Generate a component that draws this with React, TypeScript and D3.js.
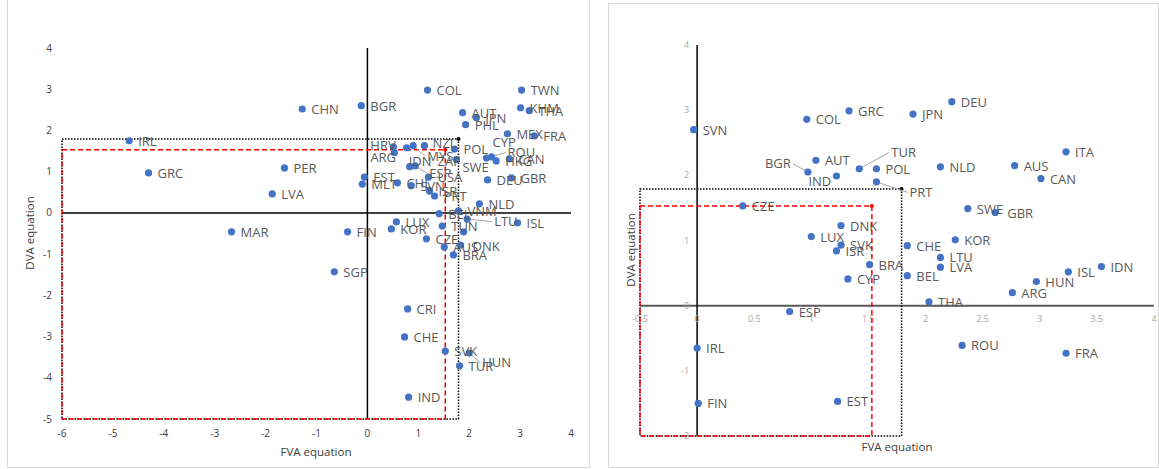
import React from 'react';
import * as d3 from 'd3';

// ---------- data ----------
const leftCodes = ['IRL','GRC','MAR','CHN','BGR','PER','LVA','COL','TWN','KHM','THA','AUT','JPN','PHL','MEX','FRA','CYP','ROU','HKG','CAN','POL','SWE','DEU','GBR','NZL','HRV','ARG','MYS','ZAF','IDN','ESP','USA','EST','MLT','CHL','SVN','ISR','PRT','NLD','VNM','BEL','LTU','ISL','LUX','KOR','FIN','TUN','ITA','CZE','AUS','DNK','BRA','SGP','CRI','CHE','SVK','HUN','TUR','IND'];
const leftFVA = [-4.68,-4.30,-2.67,-1.28,-0.12,-1.63,-1.87,1.18,3.03,3.01,3.18,1.87,2.14,1.93,2.75,3.28,2.44,2.34,2.53,2.79,1.71,1.75,2.36,2.83,1.12,0.51,0.53,0.90,0.77,0.83,0.94,1.20,-0.06,-0.10,0.59,0.86,1.22,1.32,2.20,1.79,1.41,1.96,2.95,0.57,0.47,-0.39,1.47,1.89,1.16,1.51,1.83,1.69,-0.65,0.79,0.73,1.53,2.00,1.81,0.81];
const leftDVA = [1.75,0.97,-0.46,2.52,2.60,1.09,0.46,2.98,2.98,2.55,2.48,2.43,2.31,2.14,1.92,1.87,1.36,1.33,1.26,1.31,1.55,1.29,0.80,0.85,1.63,1.60,1.46,1.63,1.58,1.12,1.14,0.87,0.87,0.70,0.73,0.66,0.53,0.41,0.22,0.05,-0.02,-0.15,-0.24,-0.22,-0.39,-0.46,-0.32,-0.46,-0.63,-0.83,-0.78,-1.02,-1.43,-2.33,-3.01,-3.35,-3.40,-3.71,-4.47];

const rightCodes = ['SVN','COL','GRC','JPN','DEU','BGR','AUT','IND','TUR','POL','PRT','NLD','AUS','ITA','CAN','CZE','SWE','GBR','DNK','LUX','SVK','ISR','CHE','KOR','LTU','LVA','BRA','BEL','CYP','IDN','ISL','HUN','ARG','THA','ESP','ROU','FRA','IRL','FIN','EST'];
const rightFVA = [-0.03,0.96,1.33,1.89,2.23,0.97,1.04,1.22,1.42,1.57,1.57,2.13,2.78,3.23,3.01,0.40,2.37,2.61,1.26,1.00,1.26,1.22,1.84,2.26,2.13,2.13,1.51,1.84,1.32,3.54,3.25,2.97,2.76,2.03,0.81,2.32,3.23,0.00,0.01,1.23];
const rightDVA = [2.70,2.86,2.99,2.94,3.13,2.05,2.23,1.99,2.10,2.10,1.90,2.13,2.15,2.36,1.95,1.53,1.49,1.43,1.23,1.06,0.93,0.84,0.92,1.01,0.74,0.59,0.63,0.46,0.41,0.60,0.52,0.37,0.20,0.06,-0.09,-0.61,-0.73,-0.65,-1.50,-1.47];

const leftXTicks = [-6,-5,-4,-3,-2,-1,0,1,2,3,4];
const leftYTicks = [-5,-4,-3,-2,-1,0,1,2,3,4];
const rightXTicks = [-0.5,0,0.5,1,1.5,2,2.5,3,3.5,4];
const rightYTicks = [-2,-1,0,1,2,3,4];

const blackThreshold = 1.79;
const redThreshold = 1.53;

// ---------- label layout (styling) ----------
type Off = { dx: number; dy: number; leader?: boolean; hide?: boolean };
const DEFAULT_OFF: Off = { dx: 9, dy: 5 };
const leftLabelOffsets: Record<string, Off> = {
  HRV: { dx: -23, dy: 3 },
  ARG: { dx: -24, dy: 9 },
  IDN: { dx: -1, dy: -1 },
  MYS: { dx: 14, dy: 15, leader: true },
  ZAF: { dx: 31, dy: 18 },
  ESP: { dx: 14, dy: 12, leader: true },
  SWE: { dx: 6, dy: 12 },
  CYP: { dx: 1, dy: -10 },
  ROU: { dx: 21, dy: -1, leader: true },
  LTU: { dx: 27, dy: 7, leader: true },
  HUN: { dx: 13, dy: 14, leader: true },
  NZL: { dx: 8, dy: 2 },
  DNK: { dx: 12, dy: 6 },
  ITA: { dx: 0, dy: 0, hide: true },
};
const rightLabelOffsets: Record<string, Off> = {
  BGR: { dx: -43, dy: -4, leader: true },
  IND: { dx: -28, dy: 10 },
  TUR: { dx: 32, dy: -12, leader: true },
  PRT: { dx: 33, dy: 15, leader: true },
  GBR: { dx: 12, dy: 6 },
};

type PanelProps = {
  codes: string[]; fva: number[]; dva: number[];
  xDomain: [number, number]; xRange: [number, number];
  yDomain: [number, number]; yRange: [number, number];
  xTicks: number[]; yTicks: number[];
  offsets: Record<string, Off>;
  variant: 'left' | 'right';
  xTitle: { x: number; y: number };
  yTitle: { x: number; y: number };
};

const FONT = "'Open Sans', 'Noto Sans', sans-serif";

function Panel(p: PanelProps) {
  const x = d3.scaleLinear().domain(p.xDomain).range(p.xRange);
  const y = d3.scaleLinear().domain(p.yDomain).range(p.yRange);
  const [x0, x1] = p.xDomain;
  const [y0, y1] = p.yDomain;
  const boxPath = (t: number) =>
    `M${x(x0)},${y(t)}H${x(t)}V${y(y0)}H${x(x0)}Z`;
  const isLeft = p.variant === 'left';
  const tickColor = isLeft ? '#404040' : '#a6a6a6';
  const tickSize = isLeft ? 10 : 9;
  const textW = 26;

  return (
    <g>
      {/* axes */}
      <line x1={x(x0)} x2={x(x1)} y1={y(0)} y2={y(0)} stroke={isLeft ? '#000' : '#595959'} strokeWidth={isLeft ? 1.5 : 2} />
      <line x1={x(0)} x2={x(0)} y1={y(y0)} y2={y(y1)} stroke="#000" strokeWidth={1.5} />
      {/* tick labels */}
      {p.yTicks.map((t) => (
        <text key={'y' + t} x={isLeft ? 52 : x(0) - 8} y={y(t) + (isLeft ? 3.5 : 3)} textAnchor="end"
          fontSize={tickSize} fill={tickColor} fontFamily={FONT}>{String(t)}</text>
      ))}
      {p.xTicks.map((t) => (
        <text key={'x' + t} x={x(t)} y={isLeft ? 437 : y(0) + 16} textAnchor="middle"
          fontSize={tickSize} fill={tickColor} fontFamily={FONT}>{String(t)}</text>
      ))}
      {/* threshold boxes */}
      <path d={boxPath(blackThreshold)} fill="none" stroke="#000" strokeWidth={1.5} strokeDasharray="1.5,1.5" />
      <path d={boxPath(redThreshold)} fill="none" stroke="#ff0000" strokeWidth={1.5} strokeDasharray="5,3" />
      <circle cx={x(blackThreshold)} cy={y(blackThreshold)} r={2} fill="#000" />
      <circle cx={x(redThreshold)} cy={y(redThreshold)} r={2} fill="#ff0000" />
      {/* leader lines */}
      {p.codes.map((c, i) => {
        const o = p.offsets[c] || DEFAULT_OFF;
        if (!o.leader || o.hide) return null;
        const px = x(p.fva[i]), py = y(p.dva[i]);
        const lx = px + o.dx, ly = py + o.dy - 4.5;
        const ex = o.dx < 0 ? lx + textW + 2 : lx - 2;
        return <polyline key={'l' + c} points={`${px},${py} ${ex},${ly}`} fill="none" stroke="#a6a6a6" strokeWidth={1} />;
      })}
      {/* points */}
      {p.codes.map((c, i) => (
        <circle key={'p' + c} cx={x(p.fva[i])} cy={y(p.dva[i])} r={3.6} fill="#4472c4" />
      ))}
      {/* labels */}
      {p.codes.map((c, i) => {
        const o = p.offsets[c] || DEFAULT_OFF;
        if (o.hide) return null;
        return (
          <text key={'t' + c} x={x(p.fva[i]) + o.dx} y={y(p.dva[i]) + o.dy} fontSize={13}
            fill="#595959" fontFamily={FONT}>{c}</text>
        );
      })}
      {/* axis titles */}
      <text x={p.xTitle.x} y={p.xTitle.y} textAnchor="middle" fontSize={11.5} fill="#404040" fontFamily={FONT}>FVA equation</text>
      <text transform={`translate(${p.yTitle.x},${p.yTitle.y}) rotate(-90)`} textAnchor="middle" fontSize={11.5}
        fill="#404040" fontFamily={FONT}>DVA equation</text>
    </g>
  );
}

export default function App() {
  return (
    <svg width={1159} height={469} style={{ position: 'absolute', left: 0, top: 0, background: '#fff' }}>
      <rect x={0} y={0} width={1159} height={469} fill="#fff" />
      <rect x={7.5} y={-1} width={582} height={468.5} fill="#fff" stroke="#d9d9d9" strokeWidth={1} />
      <rect x={608.5} y={3.5} width={550} height={464} fill="#fff" stroke="#d9d9d9" strokeWidth={1} />
      <Panel codes={leftCodes} fva={leftFVA} dva={leftDVA}
        xDomain={[-6, 4]} xRange={[62, 571]} yDomain={[-5, 4]} yRange={[419, 48]}
        xTicks={leftXTicks} yTicks={leftYTicks} offsets={leftLabelOffsets} variant="left"
        xTitle={{ x: 316, y: 456 }} yTitle={{ x: 34, y: 233 }} />
      <Panel codes={rightCodes} fva={rightFVA} dva={rightDVA}
        xDomain={[-0.5, 4]} xRange={[640, 1154]} yDomain={[-2, 4]} yRange={[436, 45]}
        xTicks={rightXTicks} yTicks={rightYTicks} offsets={rightLabelOffsets} variant="right"
        xTitle={{ x: 897, y: 451 }} yTitle={{ x: 635, y: 250 }} />
    </svg>
  );
}
